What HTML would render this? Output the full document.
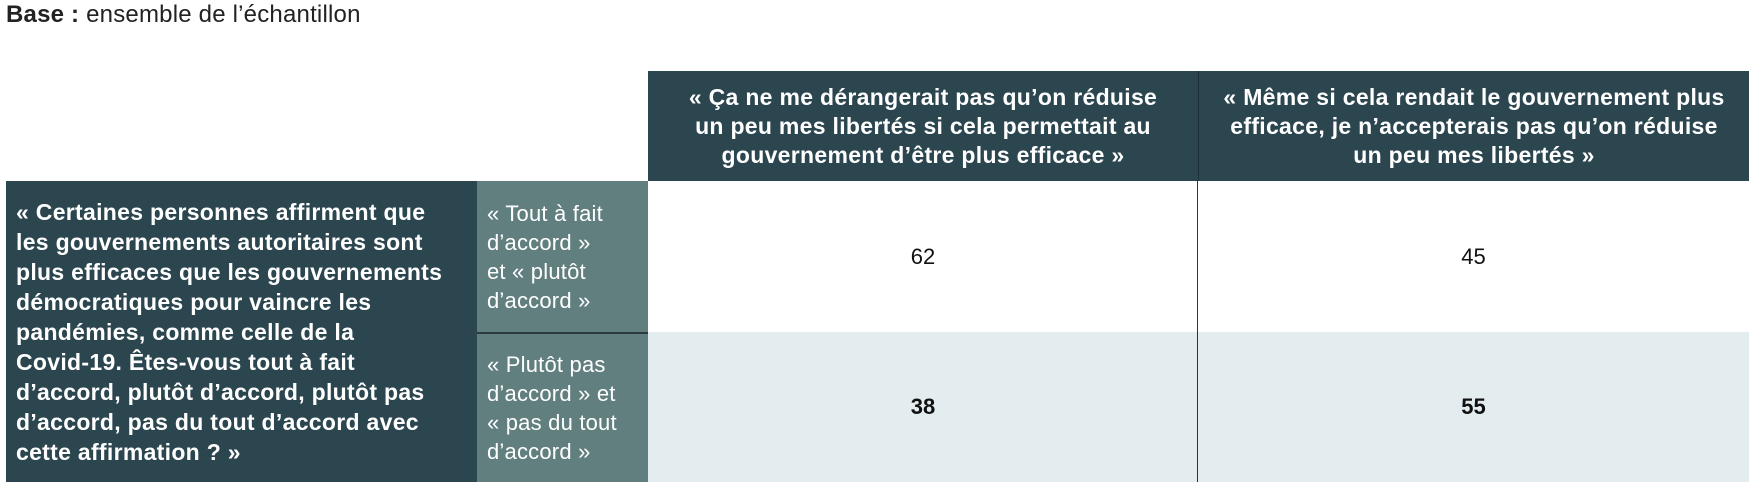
<!DOCTYPE html>
<html><head><meta charset="utf-8"><style>
body{margin:0;width:1760px;height:487px;background:#fff;font-family:"Liberation Sans",sans-serif;position:relative;overflow:hidden}
.a{position:absolute;box-sizing:border-box}
.t{left:6px;top:1px;font-size:24px;color:#222;letter-spacing:0.2px}
.h{background:#2c4650;color:#fff;font-weight:bold;font-size:23px;line-height:29px;text-align:center;display:flex;align-items:center;justify-content:center;letter-spacing:0.3px}
.l{background:#2c4650;color:#fff;font-weight:bold;font-size:23px;line-height:30px;padding-left:10px;display:flex;align-items:center;letter-spacing:0.3px;white-space:nowrap}
.m{background:#627f80;color:#fff;font-size:22px;line-height:29px;padding-left:10px;display:flex;align-items:center;letter-spacing:0.2px;white-space:nowrap}
.n{font-size:22px;color:#111;display:flex;align-items:center;justify-content:center}
</style></head><body>
<div class="a t"><b>Base :</b> ensemble de l’échantillon</div>
<div class="a h" style="left:648px;top:71px;width:550px;height:110px">« Ça ne me dérangerait pas qu’on réduise<br>un peu mes libertés si cela permettait au<br>gouvernement d’être plus efficace »</div>
<div class="a h" style="left:1198px;top:71px;width:551px;height:110px;border-left:1px solid #1d3038">« Même si cela rendait le gouvernement plus<br>efficace, je n’accepterais pas qu’on réduise<br>un peu mes libertés »</div>
<div class="a l" style="left:6px;top:181px;width:471px;height:301px">« Certaines personnes affirment que<br>les gouvernements autoritaires sont<br>plus efficaces que les gouvernements<br>démocratiques pour vaincre les<br>pandémies, comme celle de la<br>Covid-19. Êtes-vous tout à fait<br>d’accord, plutôt d’accord, plutôt pas<br>d’accord, pas du tout d’accord avec<br>cette affirmation ? »</div>
<div class="a m" style="left:477px;top:181px;width:171px;height:151px">« Tout à fait<br>d’accord »<br>et « plutôt<br>d’accord »</div>
<div class="a m" style="left:477px;top:332px;width:171px;height:150px;border-top:2px solid #2a3a3e">« Plutôt pas<br>d’accord » et<br>« pas du tout<br>d’accord »</div>
<div class="a n" style="left:648px;top:181px;width:550px;height:151px">62</div>
<div class="a n" style="left:1198px;top:181px;width:551px;height:151px">45</div>
<div class="a" style="left:648px;top:332px;width:1101px;height:150px;background:#e3ecee"></div>
<div class="a n" style="left:648px;top:332px;width:550px;height:150px;font-weight:bold">38</div>
<div class="a n" style="left:1198px;top:332px;width:551px;height:150px;font-weight:bold">55</div>
<div class="a" style="left:1197px;top:181px;width:1px;height:301px;background:#333"></div>
</body></html>
